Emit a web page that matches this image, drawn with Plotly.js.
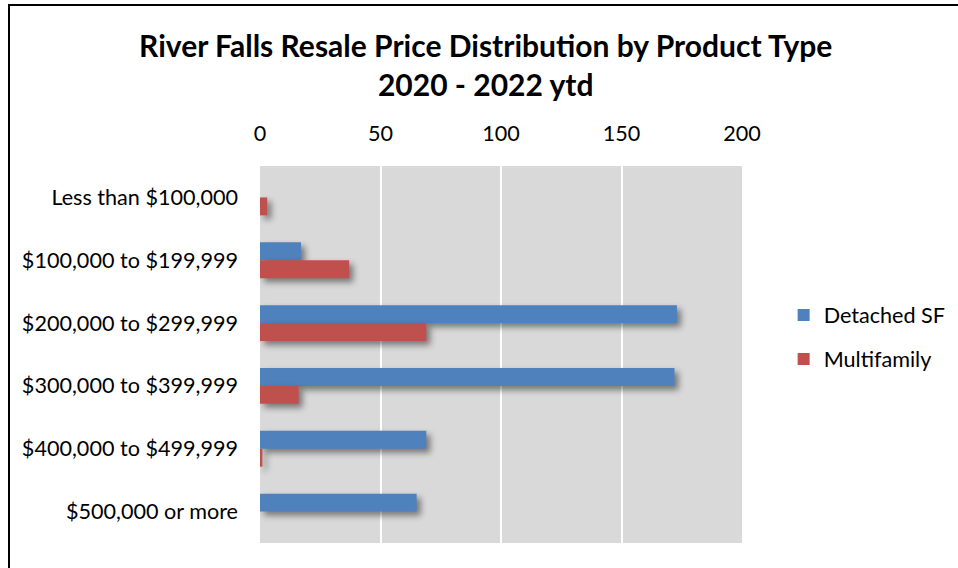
<!DOCTYPE html>
<html>
<head>
<meta charset="utf-8">
<script src="https://cdn.plot.ly/plotly-3.0.1.min.js"></script>
<style>
  html, body { margin: 0; padding: 0; background: #fff; }
  #wrap { position: relative; width: 958px; height: 568px; overflow: hidden; }
  #chart { position: absolute; left: 0; top: 0; width: 958px; height: 568px; }
  #frame { position: absolute; left: 8px; top: 4px; width: 960px; height: 580px;
           border-left: 2px solid #000; border-top: 2px solid #000; pointer-events: none; }
  .trace.bars .point path { filter: drop-shadow(4px 4px 3px rgba(0,0,0,0.45)); }
</style>
</head>
<body>
<div id="wrap">
  <div id="chart"></div>
  <div id="frame"></div>
</div>
<script>
const categories = [
  "Less than $100,000",
  "$100,000 to $199,999",
  "$200,000 to $299,999",
  "$300,000 to $399,999",
  "$400,000 to $499,999",
  "$500,000 or more"
];
const detachedSF = [0, 17, 173, 172, 69, 65];
const multifamily = [3, 37, 69, 16, 1, 0];
const xTicks = [0, 50, 100, 150, 200];

const FONT = "Lato, 'Open Sans', sans-serif";

const traces = [
  {
    type: "bar", orientation: "h", name: "Detached SF",
    y: categories, x: detachedSF, legendgroup: "a",
    marker: { color: "#4F81BD", line: { width: 0 } },
    hoverinfo: "x+name"
  },
  {
    type: "bar", orientation: "h", name: "Multifamily",
    y: categories, x: multifamily, legendgroup: "b",
    marker: { color: "#C0504D", line: { width: 0 } },
    hoverinfo: "x+name"
  }
];

const layout = {
  width: 958, height: 568,
  margin: { l: 260, r: 216, t: 166, b: 25, autoexpand: false },
  paper_bgcolor: "#ffffff",
  plot_bgcolor: "#D9D9D9",
  font: { family: FONT, color: "#000", size: 21.6 },
  title: {
    text: "<b>River Falls Resale Price Distribution by Product Type<br>2020 - 2022 ytd</b>",
    font: { family: FONT, size: 30, color: "#000" },
    x: 0.507, xanchor: "center", y: 0.90, yanchor: "top"
  },
  barmode: "group",
  bargap: 0.43,
  bargroupgap: 0,
  xaxis: {
    side: "top", range: [0, 200], tickvals: xTicks, ticktext: xTicks.map(String),
    showgrid: true, gridcolor: "#ffffff", gridwidth: 2,
    zeroline: false, showline: false, ticks: "", ticklen: 0,
    ticklabelstandoff: 20,
    tickfont: { family: FONT, size: 21.6, color: "#000" }, automargin: false
  },
  yaxis: {
    type: "category", autorange: "reversed",
    showgrid: false, zeroline: false, showline: false, ticks: "",
    ticklabelstandoff: 21,
    tickfont: { family: FONT, size: 21.6, color: "#000" }, automargin: false
  },
  legend: {
    xref: "container", yref: "container",
    x: 0.818, xanchor: "left", y: 0.406, yanchor: "middle",
    font: { family: FONT, size: 21.6, color: "#000" },
    tracegroupgap: 13, bgcolor: "rgba(0,0,0,0)", traceorder: "grouped"
  },
  showlegend: true
};

Plotly.newPlot("chart", traces, layout, { displayModeBar: false, staticPlot: true });
</script>
</body>
</html>
